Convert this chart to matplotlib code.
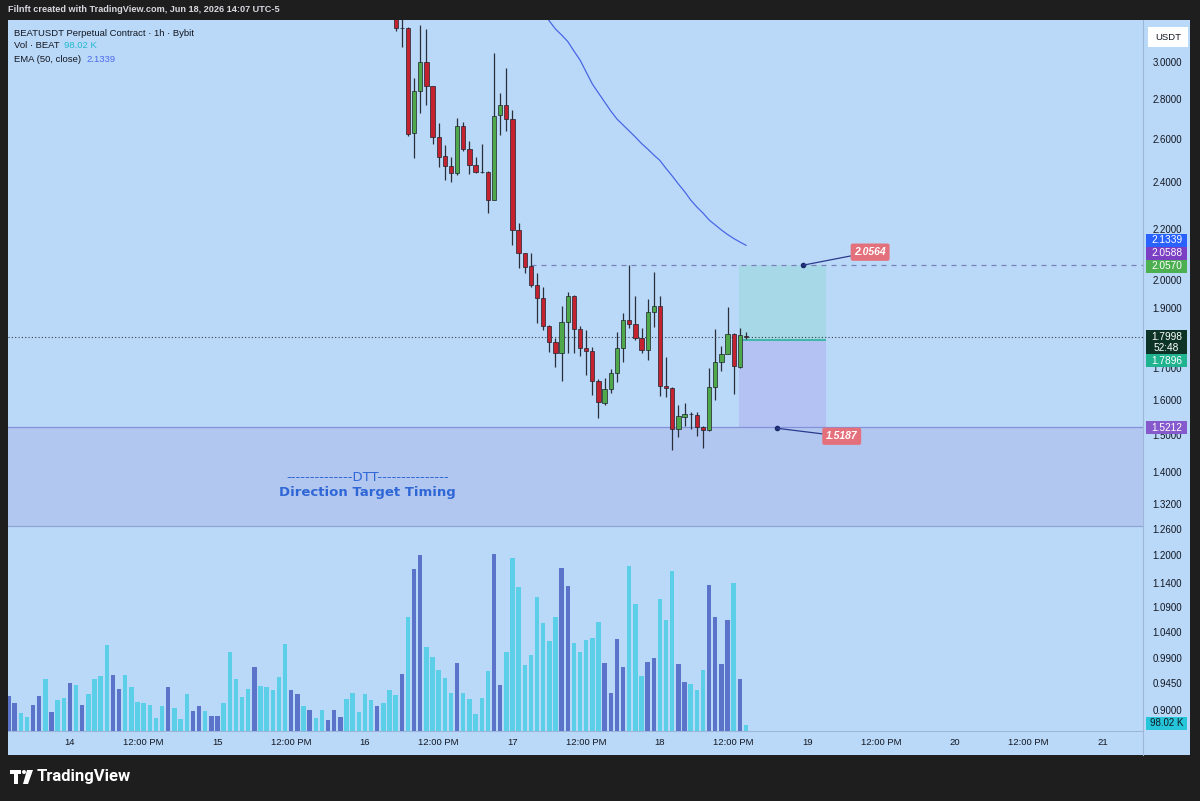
import matplotlib
matplotlib.use("Agg")
import matplotlib.pyplot as plt
from matplotlib.patches import Rectangle, Polygon, Circle
from matplotlib.ticker import FixedLocator, FixedFormatter, NullLocator

plt.rcParams['font.family'] = ['Liberation Sans', 'DejaVu Sans']

# ---- data (1h bars, bar 0 = Jun 13 14:00) ----
# volume in K for every bar, u = up bar (dark), d = down bar (light)
vol_k = [605, 479, 306, 248, 456, 611, 894, 334, 536, 577,
         825, 796, 456, 646, 894, 952, 1482, 969, 727, 975,
         761, 502, 479, 456, 231, 427, 761, 404, 208, 634,
         346, 427, 352, 260, 260, 490, 1361, 894, 594, 727,
         1101, 779, 755, 709, 940, 1511, 704, 646, 438, 369,
         231, 358, 190, 358, 236, 559, 657, 334, 646, 542,
         427, 484, 704, 623, 986, 1972, 2803, 3039, 1448, 1274,
         1055, 911, 652, 1182, 652, 548, 294, 571, 1032, 3062,
         796, 1361, 2987, 2486, 1148, 1309, 2313, 1869, 1551, 1972,
         2820, 2503, 1522, 1361, 1580, 1615, 1880, 1171, 657, 1592,
         1113, 2855, 2203, 952, 1194, 1263, 2278, 1926, 2762, 1153,
         848, 819, 709, 1055, 2532, 1967, 1153, 1926, 2555, 905,
         98.02]
vol_dir = ("uudduududd" "ududddduud" "dddddduddd" "uuduuddddd" "uddddduudu"
           "dduuuddddd" "uddduduudd" "dddudddddu" "uddddddddd" "uuddddduuu"
           "uddduudddu" "uddduuuudu" "d")

# visible candles start at bar 63 (Jun 16 05:00)
candle_start = 63
opens = [3.2800, 3.1960, 3.1957, 2.6291, 2.8442, 3.0000, 2.8691, 2.6096, 2.5191, 2.4727,
         2.4407, 2.6635, 2.5535, 2.4773, 2.4470, 2.4467, 2.3213, 2.7186, 2.7695, 2.6969,
         2.1954, 2.1035, 2.0533, 1.9820, 1.9347, 1.8366, 1.7838, 1.7458, 1.8514, 1.9419,
         1.8254, 1.7621, 1.7533, 1.6591, 1.5908, 1.6328, 1.6821, 1.7621, 1.8572, 1.8424,
         1.7951, 1.7565, 1.8861, 1.9062, 1.6437, 1.6367, 1.5158, 1.5517, 1.5590, 1.5565,
         1.5214, 1.5138, 1.6407, 1.7187, 1.7425, 1.8095, 1.7028, 1.8028]
highs = [3.3000, 3.2500, 3.2000, 2.9121, 3.2136, 3.1898, 2.8691, 2.6784, 2.5711, 2.5158,
         2.7034, 2.6849, 2.5917, 2.5158, 2.5759, 2.4480, 3.0506, 2.8336, 2.9684, 2.7439,
         2.2241, 2.1047, 2.1035, 2.0267, 1.9758, 1.8400, 1.7961, 1.9062, 1.9575, 1.9455,
         1.8366, 1.8230, 1.7673, 1.6634, 1.6674, 1.6946, 1.8173, 1.8805, 2.0571, 1.9419,
         1.8288, 1.9300, 2.0316, 1.9419, 1.7348, 1.6407, 1.5858, 1.5908, 1.5662, 1.5662,
         1.5251, 1.6978, 1.8254, 1.7696, 1.9016, 1.8129, 1.8288, 1.8173]
lows = [3.1800, 3.0830, 2.6160, 2.5097, 2.7287, 2.7695, 2.5759, 2.4695, 2.4092, 2.4016,
        2.4317, 2.5440, 2.4362, 2.4407, 2.4407, 2.2659, 2.3200, 2.6193, 2.6404, 2.1350,
        2.0457, 2.0267, 1.9758, 1.8469, 1.8230, 1.7510, 1.7028, 1.6591, 1.7458, 1.7468,
        1.7370, 1.6768, 1.6156, 1.5471, 1.5858, 1.6207, 1.6560, 1.7187, 1.8288, 1.7894,
        1.7458, 1.7242, 1.8343, 1.6135, 1.6087, 1.4585, 1.4951, 1.5251, 1.5158, 1.4970,
        1.4648, 1.5119, 1.6006, 1.6893, 1.7425, 1.6186, 1.6978, 1.7918]
closes = [3.1950, 3.1975, 2.6230, 2.8442, 3.0000, 2.8691, 2.6096, 2.5158, 2.4727, 2.4421,
          2.6635, 2.5521, 2.4773, 2.4467, 2.4460, 2.3213, 2.7150, 2.7695, 2.6969, 2.1954,
          2.1035, 2.0506, 1.9820, 1.9347, 1.8366, 1.7838, 1.7468, 1.8514, 1.9419, 1.8254,
          1.7621, 1.7533, 1.6591, 1.5938, 1.6328, 1.6821, 1.7621, 1.8572, 1.8434, 1.7951,
          1.7565, 1.8861, 1.9062, 1.6437, 1.6367, 1.5158, 1.5537, 1.5586, 1.5580, 1.5214,
          1.5138, 1.6407, 1.7187, 1.7425, 1.8095, 1.7060, 1.8062, 1.7998]

# EMA(50), bars 87..120
ema_start = 87
ema = [3.2922, 3.2376, 3.1898, 3.1544, 3.1165, 3.0620, 3.0112, 2.9447, 2.8798, 2.8320,
       2.7850, 2.7389, 2.6984, 2.6685, 2.6389, 2.6096, 2.5783, 2.5521, 2.5238, 2.4981,
       2.4612, 2.4272, 2.3913, 2.3582, 2.3213, 2.2913, 2.2659, 2.2366, 2.2159, 2.1954,
       2.1771, 2.1610, 2.1470, 2.1339]

last_price = 1.7998
entry, target, stop = 1.7896, 2.0564, 1.5187
ray_price = 2.0570
zone_top, zone_bottom = 1.5212, 1.2660

price_ticks = [3.0, 2.8, 2.6, 2.4, 2.2, 2.0, 1.9, 1.7, 1.6, 1.5, 1.4,
               1.32, 1.26, 1.2, 1.14, 1.09, 1.04, 0.99, 0.945, 0.9]
x_tick_pos = [10 + 12 * j for j in range(15)]
x_tick_labels = ['14', '12:00 PM', '15', '12:00 PM', '16', '12:00 PM', '17', '12:00 PM',
                 '18', '12:00 PM', '19', '12:00 PM', '20', '12:00 PM', '21']

# ---- colours ----
BG = '#bad9f8'
DARK = '#1e1e1e'
UP_C, DN_C = '#4fa84a', '#c3222e'
VOL_UP, VOL_DN = '#5b73c8', '#5ccfe8'
TXT = '#131722'
GRIDL = '#9db6d8'

W, H = 1200, 801
fig = plt.figure(figsize=(12, 8.01), dpi=100, facecolor=DARK)

# background / chrome in pixel coords
bg = fig.add_axes([0, 0, 1, 1], zorder=0)
bg.set_xlim(0, W)
bg.set_ylim(H, 0)
bg.axis('off')
bg.add_patch(Rectangle((8, 20), 1182, 735, facecolor=BG, edgecolor='none'))
bg.plot([8, 1143], [731, 731], color=GRIDL, lw=0.8)
bg.plot([1143, 1143], [20, 755], color=GRIDL, lw=0.8)
bg.text(8, 10, 'Filnft created with TradingView.com, Jun 18, 2026 14:07 UTC-5',
        color='#d8dae0', fontsize=6.6, fontweight='bold', va='center', ha='left')

# TradingView logo
bg.add_patch(Polygon([[10, 770], [21, 770], [21, 774], [18, 774], [18, 784], [14, 784],
                      [14, 774], [10, 774]], closed=True, facecolor='white', edgecolor='none'))
bg.add_patch(Circle((24, 772), 2.0, facecolor='white', edgecolor='none'))
bg.add_patch(Polygon([[27, 770], [33, 770], [28, 784], [23, 784]], closed=True,
                     facecolor='white', edgecolor='none'))
bg.text(37, 777, 'TradingView', color='white', fontsize=12, fontweight='bold',
        va='center', ha='left', family=['Roboto', 'DejaVu Sans'])

rect = [8 / W, (H - 731) / H, 1135 / W, 711 / H]
xmin, xmax = -0.08, 184.6

# volume pane (overlay)
axv = fig.add_axes(rect, zorder=1)
axv.patch.set_visible(False)
vol_x = list(range(len(vol_k)))
vol_cols = [VOL_UP if d == 'u' else VOL_DN for d in vol_dir]
axv.bar(vol_x, vol_k, width=0.72, color=vol_cols, linewidth=0)
axv.set_xlim(xmin, xmax)
axv.set_ylim(0, 12300)
axv.axis('off')

# price pane
ax = fig.add_axes(rect, zorder=2)
ax.patch.set_visible(False)
ax.set_yscale('log')
ax.set_xlim(xmin, xmax)
ax.set_ylim(0.8651, 3.2436)
for s in ax.spines.values():
    s.set_visible(False)

# DTT zone
ax.axhspan(zone_bottom, zone_top, color='#b2c7f0', lw=0, zorder=1)
ax.axhline(zone_top, color='#8390da', lw=0.9, zorder=2)
ax.axhline(zone_bottom, color='#8ea6d2', lw=0.9, zorder=2)
ax.text(0.317, 0.357, '--------------DTT---------------', transform=ax.transAxes,
        ha='center', va='center', color='#2f67d6', fontsize=9.5, family=['DejaVu Sans'])
ax.text(0.317, 0.335, 'Direction Target Timing', transform=ax.transAxes, ha='center',
        va='center', color='#2f67d6', fontsize=9.5, fontweight='bold', family=['DejaVu Sans'])

# position tool
pos_x0, pos_x1 = 118.9, 133.1
ax.add_patch(Rectangle((pos_x0, entry), pos_x1 - pos_x0, target - entry,
                       facecolor='#a7d8e8', edgecolor='none', zorder=1))
ax.add_patch(Rectangle((pos_x0, stop), pos_x1 - pos_x0, entry - stop,
                       facecolor='#b3c2f2', edgecolor='none', zorder=1))
ax.hlines(entry, pos_x0, pos_x1, color='#2bb39c', lw=1.2, zorder=3)

# horizontal ray and last price
ax.hlines(ray_price, 85.0, xmax, color='#7a7fb8', lw=0.9, linestyles=(0, (4, 4)), zorder=2)
ax.axhline(last_price, color='#3a3e4a', lw=0.8, ls=(0, (1, 2)), zorder=2)

# EMA
ema_x = [ema_start + i for i in range(len(ema))]
ax.plot(ema_x, ema, color='#4a66e6', lw=0.9, zorder=3)

# candles
cx = [candle_start + i for i in range(len(opens))]
cols = [UP_C if c >= o else DN_C for o, c in zip(opens, closes)]
ax.vlines(cx, lows, highs, color='#2a2e39', lw=0.9, zorder=4)
bottoms = [min(o, c) for o, c in zip(opens, closes)]
heights = [max(abs(c - o), 0.0015) for o, c in zip(opens, closes)]
ax.bar(cx, heights, bottom=bottoms, width=0.7, color=cols, edgecolor='#1e222d',
       linewidth=0.5, zorder=5)

# target / stop labels
lab_box = dict(boxstyle='round,pad=0.35,rounding_size=0.2', fc='#e4707c', ec='none')
for px, price, off in [(129.3, target, (67, 13)), (125.0, stop, (65, -8))]:
    ax.plot([px], [price], 'o', color='#1c2a6b', ms=3, zorder=6)
    ax.annotate(f'{price:.4f}', xy=(px, price), xytext=off, textcoords='offset pixels',
                ha='center', va='center', color='white', fontsize=7.5, fontweight='bold',
                style='italic', bbox=lab_box, zorder=7,
                arrowprops=dict(arrowstyle='-', color='#2b3a8c', lw=0.9, shrinkA=0, shrinkB=0))

# axes ticks
ax.yaxis.tick_right()
ax.yaxis.set_major_locator(FixedLocator(price_ticks))
ax.yaxis.set_major_formatter(FixedFormatter([f'{p:.4f}' for p in price_ticks]))
ax.yaxis.set_minor_locator(NullLocator())
ax.tick_params(axis='y', length=0, pad=7, labelsize=7, labelcolor=TXT)
ax.xaxis.set_major_locator(FixedLocator(x_tick_pos))
ax.xaxis.set_major_formatter(FixedFormatter(x_tick_labels))
ax.tick_params(axis='x', length=0, pad=5, labelsize=6.8, labelcolor=TXT)

# top overlay: legend, currency box, price-scale labels (pixel coords)
top = fig.add_axes([0, 0, 1, 1], zorder=5)
top.set_xlim(0, W)
top.set_ylim(H, 0)
top.axis('off')


def pix_y(axis, value):
    return H - axis.transData.transform((0, value))[1]


# (text, price, shift in px, box colour, text colour, box height)
scale_labels = [('2.1339', 2.1339, -5, '#2962ff', 'white', 13),
                ('2.0588', 2.0588, -11.5, '#7b3fc4', 'white', 13),
                ('2.0570', 2.0570, 1, '#4caf50', 'white', 13),
                ('1.7998\n52:48', last_price, 5.5, '#0c3326', 'white', 24),
                ('1.7896', entry, 21, '#1fb48f', 'white', 13),
                ('1.5212', zone_top, 0.6, '#8659cc', 'white', 13)]
for txt, price, dy, fc, tc, bh in scale_labels:
    yc = pix_y(ax, price) + dy
    top.add_patch(Rectangle((1146, yc - bh / 2), 41, bh, facecolor=fc, edgecolor='none'))
    top.text(1166.5, yc, txt, ha='center', va='center', color=tc, fontsize=7.3,
             linespacing=1.1)
yv = pix_y(axv, vol_k[-1]) - 2
top.add_patch(Rectangle((1146, yv - 6.5), 41, 13, facecolor='#26c6da', edgecolor='none'))
top.text(1166.5, yv, '98.02 K', ha='center', va='center', color=TXT, fontsize=7)

top.text(14, 33, 'BEATUSDT Perpetual Contract · 1h · Bybit', color=TXT, fontsize=6.8,
         va='center')
top.text(14, 46, 'Vol · BEAT', color=TXT, fontsize=6.8, va='center')
top.text(64, 46, '98.02 K', color='#22b8cf', fontsize=6.8, va='center')
top.text(14, 59, 'EMA (50, close)', color=TXT, fontsize=6.8, va='center')
top.text(86, 59, '2.1339', color='#4d6af0', fontsize=6.8, va='center')
top.add_patch(Rectangle((1148, 27), 40, 20, facecolor='white', edgecolor='none'))
top.text(1168, 37, 'USDT', color=TXT, fontsize=6.8, ha='center', va='center')

fig.savefig('out.png', dpi=100, facecolor=DARK)
